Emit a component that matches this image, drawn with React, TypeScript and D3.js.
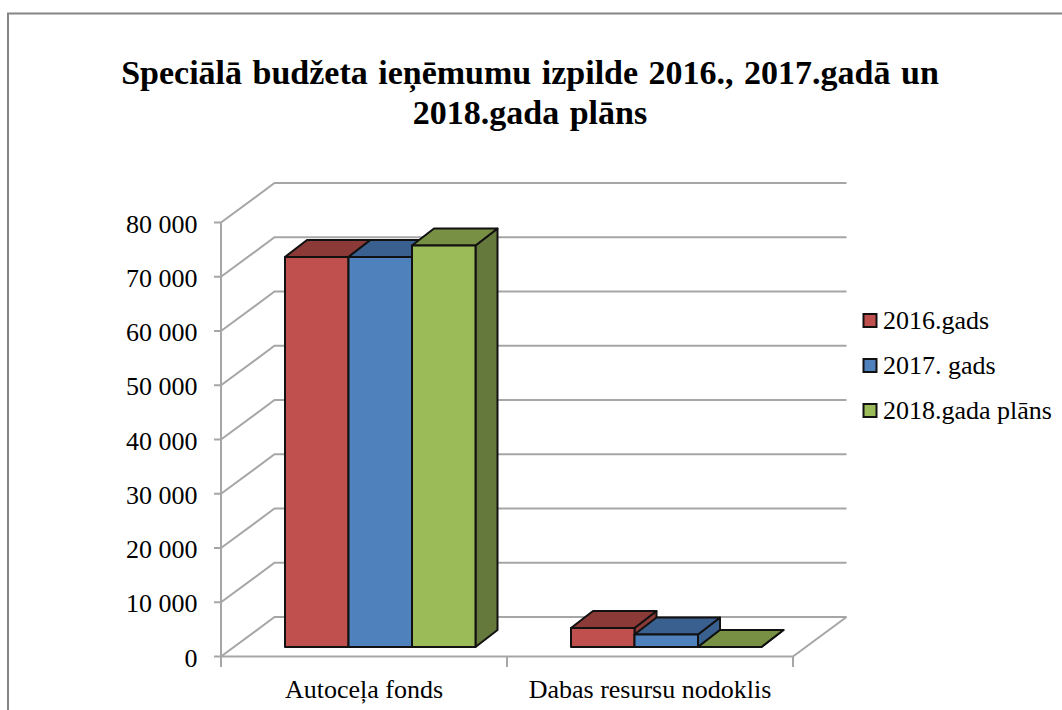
import { useEffect, useRef } from "react";
import { select, scaleLinear, scaleBand, formatLocale } from "d3";

const categories = ["Autoceļa fonds", "Dabas resursu nodoklis"];
const seriesNames = ["2016.gads", "2017. gads", "2018.gada plāns"];
const values2016 = [71900, 3500];
const values2017 = [71900, 2300];
const values2018 = [74000, 0];
const yTicks = [0, 10000, 20000, 30000, 40000, 50000, 60000, 70000, 80000];
const titleLines = [
  "Speciālā budžeta ieņēmumu izpilde 2016., 2017.gadā un",
  "2018.gada plāns",
];

const faces = [
  { front: "#c0504d", top: "#8c3a38", side: "#8c3a38" },
  { front: "#4f81bd", top: "#3a6090", side: "#3a6090" },
  { front: "#9bbb59", top: "#779044", side: "#66793c" },
];

const FONT = '"Liberation Serif", serif';
const GRID = "#a6a6a6";

const App = () => {
  const svgRef = useRef<SVGSVGElement>(null);

  useEffect(() => {
    const svg = select(svgRef.current);
    svg.selectAll("*").remove();

    const allSeries = [values2016, values2017, values2018];
    const fmt = formatLocale({ decimal: ".", thousands: " ", grouping: [3], currency: ["", ""] }).format(",d");

    // frame round the chart
    svg.append("path")
      .attr("d", "M8,710V13.5H1062")
      .attr("fill", "none")
      .attr("stroke", "#868686")
      .attr("stroke-width", 2);

    // title
    svg.selectAll(".title")
      .data(titleLines)
      .join("text")
      .attr("class", "title")
      .attr("x", 530)
      .attr("y", (d, i) => 84 + i * 40)
      .attr("text-anchor", "middle")
      .attr("font-family", FONT)
      .attr("font-weight", "bold")
      .attr("font-size", 34)
      .attr("word-spacing", 2)
      .text(d => d);

    // 3d box: front plane of the axes + depth vector to the back wall
    const yScale = scaleLinear().domain([0, 80000]).range([656.5, 222.5]);
    const xScale = scaleBand().domain(categories).range([221, 793]);
    const depthX = 53.5;
    const depthY = -39.5;

    // gridlines run up the side wall and along the back wall
    svg.selectAll(".grid")
      .data(yTicks)
      .join("path")
      .attr("class", "grid")
      .attr("d", d => {
        const y = yScale(d);
        return `M221,${y}L${221 + depthX},${y + depthY}H${793 + depthX}`;
      })
      .attr("fill", "none")
      .attr("stroke", GRID)
      .attr("stroke-width", 2);

    // floor edge on the right
    svg.append("line")
      .attr("x1", 793).attr("y1", yScale(0))
      .attr("x2", 793 + depthX).attr("y2", yScale(0) + depthY)
      .attr("stroke", GRID)
      .attr("stroke-width", 2);

    // axes
    svg.append("line")
      .attr("x1", 221).attr("x2", 221)
      .attr("y1", yScale(80000)).attr("y2", yScale(0))
      .attr("stroke", GRID).attr("stroke-width", 2);
    svg.append("line")
      .attr("x1", 221).attr("x2", 793)
      .attr("y1", yScale(0)).attr("y2", yScale(0))
      .attr("stroke", GRID).attr("stroke-width", 2);

    svg.selectAll(".ytick")
      .data(yTicks)
      .join("line")
      .attr("class", "ytick")
      .attr("x1", 214).attr("x2", 221)
      .attr("y1", d => yScale(d)).attr("y2", d => yScale(d))
      .attr("stroke", GRID).attr("stroke-width", 2);

    svg.selectAll(".xtick")
      .data([221, xScale(categories[1]), 793])
      .join("line")
      .attr("class", "xtick")
      .attr("x1", d => d).attr("x2", d => d)
      .attr("y1", yScale(0)).attr("y2", 667)
      .attr("stroke", GRID).attr("stroke-width", 2);

    svg.selectAll(".ylabel")
      .data(yTicks)
      .join("text")
      .attr("class", "ylabel")
      .attr("x", 197.5)
      .attr("y", d => yScale(d) + 10)
      .attr("text-anchor", "end")
      .attr("font-family", FONT)
      .attr("font-size", 26)
      .text(d => fmt(d));

    svg.selectAll(".xlabel")
      .data(categories)
      .join("text")
      .attr("class", "xlabel")
      .attr("x", (d, i) => [364, 650][i])
      .attr("y", 698)
      .attr("text-anchor", "middle")
      .attr("font-family", FONT)
      .attr("font-size", 26)
      .text(d => d);

    // bars
    const barW = 63.5;
    const barStart = 64; // from the band start to the first bar
    const baseY = 647;
    const barDx = 22;
    const barDy = -17;
    const heightOf = (v: number) => yScale(0) - yScale(v);

    categories.forEach(cat => {
      // drawn left to right so later boxes cover the side of earlier ones
      allSeries.forEach((vals, s) => {
        const x0 = xScale(cat) + barStart + s * barW;
        const x1 = x0 + barW;
        const top = baseY - heightOf(vals[categories.indexOf(cat)]);
        const g = svg.append("g")
          .attr("stroke", "#111")
          .attr("stroke-width", 2)
          .attr("stroke-linejoin", "round");
        g.append("path")
          .attr("d", `M${x1},${top}L${x1 + barDx},${top + barDy}V${baseY + barDy}L${x1},${baseY}Z`)
          .attr("fill", faces[s].side);
        g.append("path")
          .attr("d", `M${x0},${top}L${x0 + barDx},${top + barDy}H${x1 + barDx}L${x1},${top}Z`)
          .attr("fill", faces[s].top);
        g.append("rect")
          .attr("x", x0).attr("y", top)
          .attr("width", barW).attr("height", baseY - top)
          .attr("fill", faces[s].front);
      });
    });

    // legend
    const legendY = scaleBand().domain(seriesNames).range([298, 433]);
    seriesNames.forEach((name, i) => {
      const cy = legendY(name) + legendY.bandwidth() / 2;
      svg.append("rect")
        .attr("x", 863.5).attr("y", cy - 6.5)
        .attr("width", 13).attr("height", 13)
        .attr("fill", faces[i].front)
        .attr("stroke", "#111")
        .attr("stroke-width", 2);
      svg.append("text")
        .attr("x", 883)
        .attr("y", cy + 8)
        .attr("font-family", FONT)
        .attr("font-size", 26)
        .text(name);
    });
  }, []);

  return (
    <svg
      ref={svgRef}
      width={1062}
      height={710}
      style={{ position: "absolute", left: 0, top: 0, background: "#fff" }}
    />
  );
};

export default App;
